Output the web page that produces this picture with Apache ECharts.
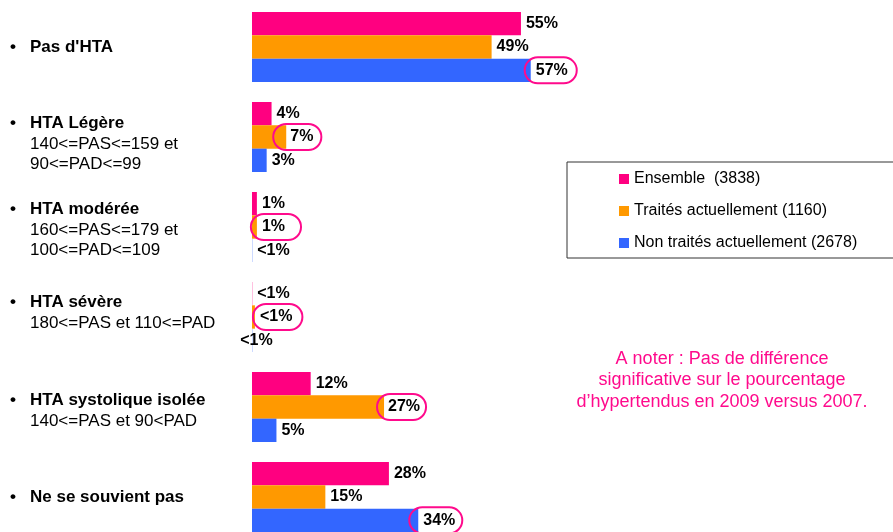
<!DOCTYPE html>
<html>
<head>
<meta charset="utf-8">
<script src="https://cdn.jsdelivr.net/npm/echarts@6/dist/echarts.min.js"></script>
<style>
  html, body { margin: 0; padding: 0; background: #fff; }
  #chart { width: 893px; height: 532px; }
</style>
</head>
<body>
<div id="chart"></div>
<script>
// categories (bold title + detail lines)
var categories = ["Pas d'HTA", 'HTA Légère', 'HTA modérée', 'HTA sévère', 'HTA systolique isolée', 'Ne se souvient pas'];
var details = [
  [],
  ['140<=PAS<=159 et', '90<=PAD<=99'],
  ['160<=PAS<=179 et', '100<=PAD<=109'],
  ['180<=PAS et 110<=PAD'],
  ['140<=PAS et 90<PAD'],
  []
];
var seriesNames = ['Ensemble  (3838)', 'Traités actuellement (1160)', 'Non traités actuellement (2678)'];
// values in %, values under 1 are shown as "<1%"
var ensemble = [55, 4, 1, 0.05, 12, 28];
var traites = [49, 7, 1, 0.6, 27, 15];
var nonTraites = [57, 3, 0.05, 0.05, 5, 34];
var noteLines = ['A noter : Pas de différence', 'significative sur le pourcentage', 'd\u2019hypertendus en 2009 versus 2007.'];

var colors = ['#FF0080', '#FF9900', '#3366FF'];
var circleColor = '#FF0A8C';
var FONT = '"Liberation Sans", Arial, sans-serif';

// circled labels: key = series index + '_' + data index
var circled = {
  '2_0': {distance: -6, padding: [5, 9, 5, 11]},
  '1_1': {distance: -13, padding: [5, 8, 5, 17]},
  '1_2': {distance: -6, padding: [5, 16, 5, 11]},
  '1_3': {distance: -2, padding: [5, 10, 5, 7]},
  '1_4': {distance: -7, padding: [5, 6, 5, 11]},
  '2_5': {distance: -9, padding: [5, 7, 5, 14]}
};
// small shifts of the left labels to sit like the slide
var labelShift = [0, 7, 3, -4, 4, 0];

function fmt(v) {
  return v < 1 ? '<1%' : Math.round(v) + '%';
}

function buildData(values, s) {
  return values.map(function (v, i) {
    var item = {value: v};
    var c = circled[s + '_' + i];
    if (c) {
      item.label = {
        distance: c.distance,
        padding: c.padding,
        borderColor: circleColor,
        borderWidth: 2,
        borderRadius: 13
      };
    }
    if (s === 2 && i === 3) {
      item.label = {offset: [-17, 0]};
    }
    return item;
  });
}

var yData = categories.map(function (c, i) {
  var sh = labelShift[i];
  var pad = sh >= 0 ? [sh * 2, 0, 0, 0] : [0, 0, -sh * 2, 0];
  return {value: c, textStyle: {padding: pad, align: 'left'}};
});

var chart = echarts.init(document.getElementById('chart'));
var option = {
  animation: false,
  backgroundColor: '#fff',
  textStyle: {fontFamily: FONT},
  grid: {left: 252, top: 2, width: 489, height: 540, containLabel: false, outerBoundsMode: 'none'},
  xAxis: {
    type: 'value', min: 0, max: 100, show: false
  },
  yAxis: {
    type: 'category',
    inverse: true,
    data: yData,
    axisLine: {show: false},
    axisTick: {show: false},
    splitLine: {show: false},
    axisLabel: {
      align: 'left',
      margin: 242,
      color: '#000',
      formatter: function (value, index) {
        var s = '{b|\u2022}{t|' + value + '}';
        details[index].forEach(function (d) {
          s += '\n{s|' + d + '}';
        });
        return s;
      },
      rich: {
        b: {width: 20, align: 'left', fontSize: 17, fontWeight: 'bold', lineHeight: 20.5, color: '#000', fontFamily: FONT},
        t: {align: 'left', fontSize: 17, fontWeight: 'bold', lineHeight: 20.5, color: '#000', fontFamily: FONT},
        s: {align: 'left', fontSize: 17, lineHeight: 20.5, color: '#000', padding: [0, 0, 0, 20], fontFamily: FONT}
      }
    }
  },
  legend: {
    orient: 'vertical',
    left: 567,
    top: 162,
    padding: [9, 70, 7, 52],
    borderColor: '#333',
    borderWidth: 1,
    itemWidth: 10,
    itemHeight: 10,
    itemGap: 16,
    icon: 'rect',
    textStyle: {fontSize: 16, lineHeight: 16, color: '#000', fontFamily: FONT},
    data: seriesNames
  },
  graphic: [{
    type: 'text',
    x: 722,
    y: 348,
    style: {
      text: noteLines.join('\n'),
      align: 'center',
      verticalAlign: 'top',
      fontSize: 18,
      lineHeight: 21.5,
      fontFamily: FONT,
      fill: circleColor
    }
  }],
  series: [ensemble, traites, nonTraites].map(function (vals, s) {
    return {
      name: seriesNames[s],
      type: 'bar',
      barGap: 0,
      barCategoryGap: '22.2%',
      itemStyle: {color: colors[s]},
      label: {
        show: true,
        position: 'right',
        distance: 5,
        fontSize: 16,
        fontWeight: 'bold',
        color: '#000',
        fontFamily: FONT,
        formatter: function (p) { return fmt(p.value); }
      },
      data: buildData(vals, s)
    };
  })
};
chart.setOption(option);
</script>
</body>
</html>
